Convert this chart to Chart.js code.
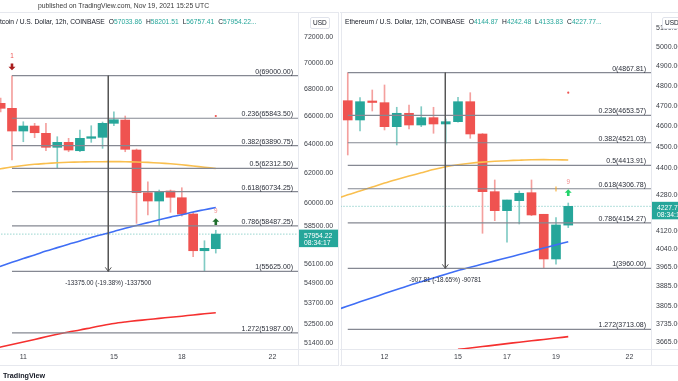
<!DOCTYPE html>
<html>
<head>
<meta charset="utf-8">
<title>BTC / ETH 12h</title>
<script src="https://cdn.jsdelivr.net/npm/chart.js@4.4.1/dist/chart.umd.min.js"></script>
<style>
  html, body { margin: 0; padding: 0; background: #fff; }
  body { position: relative; width: 678px; height: 381px; overflow: hidden; font-family: "Liberation Sans", Arial, sans-serif; color: #131722; }
  canvas { position: absolute; top: 0; }
  #btc { left: 0; }
  #eth { left: 340px; }
  .t { position: absolute; white-space: nowrap; line-height: 1; z-index: 2; }
  .hdr { font-size: 6.7px; top: 18.7px; color: #131722; }
  .hdr b { font-weight: normal; color: #26a69a; }
  .hdr i { font-style: normal; margin-left: 4px; }
  .usd { position: absolute; z-index: 2; font-size: 6.5px; border: 1px solid #e0e3eb; border-radius: 2px; padding: 1.5px 2px; line-height: 1; top: 17px; color: #131722; background: #fff; }
</style>
</head>
<body>
<canvas id="btc" width="339" height="381"></canvas>
<canvas id="eth" width="338" height="381"></canvas>
<div class="t" style="left:38px;top:2.5px;font-size:6.8px;color:#3a3a3a;">published on TradingView.com, Nov 19, 2021 15:25 UTC</div>
<div class="t hdr" id="btcHdr" style="left:-6px;"></div>
<div class="t hdr" id="ethHdr" style="left:345px;"></div>
<div class="usd" style="left:310px;">USD</div>
<div class="usd" style="left:662px;">USD</div>
<div class="t" style="left:3px;top:372px;font-size:7.2px;font-weight:bold;">TradingView</div>

<script>
// ---- BTC 12h candles (day of November) ----
const btcTimes = [10, 10.5, 11, 11.5, 12, 12.5, 13, 13.5, 14, 14.5, 15, 15.5, 16, 16.5, 17, 17.5, 18, 18.5, 19, 19.5];
const btcOpen  = [66934, 66567, 64923, 65281, 64759, 63769, 64120, 63530, 64403, 64474, 65476, 65714, 63579, 60659, 60106, 60772, 60325, 59252, 56904, 57033.86];
const btcHigh  = [67326, 69000, 65591, 65476, 65476, 64517, 64403, 64995, 65303, 65569, 66317, 66005, 63648, 61398, 60839, 60839, 60993, 59363, 57534, 58201.51];
const btcLow   = [66296, 62882, 64162, 64446, 63530, 62310, 63459, 63459, 64120, 63697, 65303, 63459, 58648, 59187, 58493, 59363, 59121, 56530, 55625, 56757.41];
const btcClose = [66567, 64923, 65281, 64801, 63769, 64120, 63579, 64403, 64517, 65476, 65736, 63628, 60659, 60106, 60725, 60352, 59252, 56904, 57055, 57954.22];

// moving averages
const btcMaTimes = [9.5, 10, 10.5, 11, 11.5, 12, 12.5, 13, 13.5, 14, 14.5, 15, 15.5, 16, 16.5, 17, 17.5, 18, 18.5, 19, 19.5];
const btcMaOrange = [62193, 62276, 62400, 62503, 62586, 62641, 62689, 62724, 62744, 62758, 62765, 62772, 62765, 62744, 62717, 62675, 62620, 62551, 62469, 62386, 62297];
const btcMaBlue   = [55695, 55940, 56181, 56417, 56642, 56886, 57099, 57313, 57515, 57738, 57935, 58127, 58332, 58513, 58694, 58881, 59050, 59206, 59389, 59533, 59678];
const btcMaRed    = [51034, 51175, 51322, 51464, 51605, 51759, 51902, 52033, 52148, 52281, 52408, 52523, 52610, 52686, 52749, 52819, 52883, 52947, 53017, 53087, 53151];

const btcFibRatios = ['0', '0.236', '0.382', '0.5', '0.618', '0.786', '1', '1.272'];
const btcFibPrices = [69000, 65843.5, 63890.75, 62312.5, 60734.25, 58487.25, 55625, 51987];
const btcYTicks = [72000, 70000, 68000, 66000, 64000, 62000, 60000, 58500, 56100, 54900, 53700, 52500, 51400];
const btcXTicks = [11, 15, 18, 22];

// ---- ETH 12h candles ----
const ethTimes = [10.5, 11, 11.5, 12, 12.5, 13, 13.5, 14, 14.5, 15, 15.5, 16, 16.5, 17, 17.5, 18, 18.5, 19, 19.5];
const ethOpen  = [4726.1, 4630.9, 4721.1, 4716.2, 4598.3, 4663.7, 4606.5, 4642.2, 4611.4, 4622.6, 4721.1, 4563.0, 4293.6, 4208.4, 4252.9, 4289.0, 4192.4, 3999.3, 4144.87];
const ethHigh  = [4867.81, 4741.1, 4779.8, 4805.1, 4693.4, 4704.8, 4696.3, 4693.4, 4635.8, 4743.1, 4766.2, 4565.0, 4346.9, 4256.1, 4296.7, 4346.9, 4192.4, 4177.4, 4242.48];
const ethLow   = [4463.0, 4577.5, 4675.0, 4582.3, 4510.4, 4587.1, 4598.3, 4566.4, 4518.5, 4620.0, 4542.3, 4109.2, 4164.2, 4070.4, 4149.7, 4186.2, 3960.0, 3977.0, 4133.83];
const ethClose = [4630.9, 4721.1, 4717.2, 4598.3, 4663.7, 4606.5, 4642.2, 4611.4, 4622.6, 4721.1, 4563.0, 4293.6, 4208.4, 4256.1, 4286.3, 4189.3, 3999.3, 4145.4, 4227.77];

const ethMaTimes = [10, 10.5, 11, 11.5, 12, 12.5, 13, 13.5, 14, 14.5, 15, 15.5, 16, 16.5, 17, 17.5, 18, 18.5, 19, 19.5];
const ethMaOrange = [4260.6, 4279.5, 4296.7, 4314.4, 4332.7, 4349.2, 4364.8, 4380.0, 4395.3, 4408.3, 4417.6, 4424.6, 4429.7, 4433.5, 4436.3, 4438.6, 4440.5, 4441.0, 4440.5, 4439.6];
const ethMaBlue   = [3789.1, 3805.5, 3822.4, 3839.0, 3856.0, 3872.8, 3889.1, 3904.3, 3920.0, 3935.3, 3950.7, 3964.5, 3977.9, 3991.4, 4004.4, 4018.0, 4032.0, 4045.7, 4059.2, 4073.0];
const ethMaRedTimes = [15, 15.5, 16, 16.5, 17, 17.5, 18, 18.5, 19, 19.5];
const ethMaRed    = [3635.4, 3641.1, 3646.5, 3651.9, 3657.7, 3663.1, 3668.5, 3673.9, 3679.3, 3684.8];

const ethFibRatios = ['0', '0.236', '0.382', '0.5', '0.618', '0.786', '1', '1.272'];
const ethFibPrices = [4867.81, 4653.57, 4521.03, 4413.91, 4306.78, 4154.27, 3960, 3713.08];
const ethYTicks = [5100, 5000, 4900, 4800, 4700, 4600, 4500, 4400, 4280, 4120, 4040, 3965, 3885, 3805, 3735, 3665];
const ethXTicks = [12, 15, 17, 19, 22];

const FONT = '"Liberation Sans", Arial, sans-serif';
const UP = '#26a69a', DOWN = '#ef5350';
const UP_WICK = '#80cbc4', DOWN_WICK = '#f4a09e';

// header legends
function header(name, o, h, l, c) {
  const i = o.length - 1;
  return name + '<i>O<b>' + o[i].toFixed(2) + '</b></i><i>H<b>' + h[i].toFixed(2) +
    '</b></i><i>L<b>' + l[i].toFixed(2) + '</b></i><i>C<b>' + c[i].toFixed(2) + '...</b></i>';
}
document.getElementById('btcHdr').innerHTML = header('Bitcoin / U.S. Dollar, 12h, COINBASE', btcOpen, btcHigh, btcLow, btcClose);
document.getElementById('ethHdr').innerHTML = header('Ethereum / U.S. Dollar, 12h, COINBASE', ethOpen, ethHigh, ethLow, ethClose);

function candleSets(t, o, h, l, c) {
  const up = c.map((v, i) => v >= o[i]);
  return [
    { type: 'bar', order: 10, grouped: false, barThickness: 9, minBarLength: 1.5, borderWidth: 0,
      data: t.map((x, i) => ({ x: x, y: [o[i], c[i]] })),
      backgroundColor: up.map(u => u ? UP : DOWN) },
    { type: 'bar', order: 11, grouped: false, barThickness: 1, borderWidth: 0,
      data: t.map((x, i) => ({ x: x, y: [l[i], h[i]] })),
      backgroundColor: up.map(u => u ? UP_WICK : DOWN_WICK) }
  ];
}

function maLine(t, v, color) {
  return { type: 'line', order: 5, data: t.map((x, i) => ({ x: x, y: v[i] })),
    borderColor: color, borderWidth: 1.6, pointRadius: 0, tension: 0.3, fill: false };
}

function hLine(x0, x1, v, color, width, dash, order) {
  return { type: 'line', order: order, data: [{ x: x0, y: v }, { x: x1, y: v }],
    borderColor: color, borderWidth: width, borderDash: dash, pointRadius: 0, fill: false };
}

function arrow(ctx, x, y, up, color) {
  const d = up ? -1 : 1;
  ctx.fillStyle = color;
  ctx.beginPath();
  ctx.moveTo(x, y + 3.5 * d);
  ctx.lineTo(x - 3.5, y);
  ctx.lineTo(x - 1.3, y);
  ctx.lineTo(x - 1.3, y - 3.2 * d);
  ctx.lineTo(x + 1.3, y - 3.2 * d);
  ctx.lineTo(x + 1.3, y);
  ctx.lineTo(x + 3.5, y);
  ctx.closePath();
  ctx.fill();
}

function overlay(cfg) {
  return {
    id: 'overlay',
    beforeDraw(chart) {
      const { ctx, chartArea: a, width } = chart;
      ctx.save();
      ctx.strokeStyle = '#e6e8ee';
      ctx.lineWidth = 1;
      ctx.beginPath();
      ctx.moveTo(a.right + 0.5, a.top); ctx.lineTo(a.right + 0.5, 366);
      ctx.moveTo(0, a.bottom + 0.5); ctx.lineTo(width, a.bottom + 0.5);
      ctx.moveTo(0, 365.5); ctx.lineTo(width, 365.5);
      ctx.moveTo(0, a.top + 0.5); ctx.lineTo(width, a.top + 0.5);
      if (cfg.edge === 'right') { ctx.moveTo(width - 0.5, a.top); ctx.lineTo(width - 0.5, 366); }
      else { ctx.moveTo(a.left + 0.5, a.top); ctx.lineTo(a.left + 0.5, 366); }
      ctx.stroke();
      ctx.restore();
    },
    afterDatasetsDraw(chart) {
      const { ctx, chartArea: a, width } = chart;
      const xs = chart.scales.x, ys = chart.scales.y;
      ctx.save();
      // fib labels
      ctx.font = '7px ' + FONT;
      ctx.fillStyle = '#2a2e39';
      ctx.textAlign = 'right';
      ctx.textBaseline = 'bottom';
      cfg.fibRatios.forEach((r, i) => {
        const py = ys.getPixelForValue(cfg.fibPrices[i]);
        ctx.fillText(r + '(' + cfg.fibPrices[i].toFixed(2) + ')', a.right - 5, py - 0.5);
      });
      // measure arrow + text
      const mx = xs.getPixelForValue(cfg.measureX);
      const my = ys.getPixelForValue(cfg.measureTo);
      ctx.strokeStyle = '#555';
      ctx.lineWidth = 1;
      ctx.beginPath();
      ctx.moveTo(mx - 3, my - 4); ctx.lineTo(mx, my); ctx.lineTo(mx + 3, my - 4);
      ctx.stroke();
      ctx.font = '6.3px ' + FONT;
      ctx.textAlign = 'center';
      ctx.textBaseline = 'middle';
      ctx.fillStyle = '#2a2e39';
      ctx.fillText(cfg.measureText, mx, my + 12);
      // markers
      cfg.sell.forEach(p => arrow(ctx, xs.getPixelForValue(p[0]), ys.getPixelForValue(p[1]), false, '#a91c1c'));
      cfg.buy.forEach(p => arrow(ctx, xs.getPixelForValue(p[0]), ys.getPixelForValue(p[1]), true, cfg.buyColor));
      cfg.dots.forEach(p => {
        ctx.fillStyle = '#ef5350';
        ctx.beginPath();
        ctx.arc(xs.getPixelForValue(p[0]), ys.getPixelForValue(p[1]), 1.1, 0, Math.PI * 2);
        ctx.fill();
      });
      cfg.ticksOrange.forEach(p => {
        ctx.strokeStyle = '#f5a623';
        ctx.beginPath();
        const px = xs.getPixelForValue(p[0]), py = ys.getPixelForValue(p[1]);
        ctx.moveTo(px, py - 2.5); ctx.lineTo(px, py + 2.5);
        ctx.stroke();
      });
      ctx.font = '6.3px ' + FONT;
      cfg.labels.forEach(p => {
        ctx.fillStyle = p[3];
        ctx.fillText(p[2], xs.getPixelForValue(p[0]), ys.getPixelForValue(p[1]));
      });
      // last price tag
      const py = ys.getPixelForValue(cfg.close);
      const tagW = (cfg.edge === 'right' ? width - 1 : width) - a.right - 1;
      ctx.fillStyle = UP;
      ctx.fillRect(a.right + 1, py - 4.5, tagW, 17.5);
      ctx.fillStyle = '#fff';
      ctx.font = '6.8px ' + FONT;
      ctx.textAlign = 'left';
      ctx.fillText(cfg.close.toFixed(2), a.right + 6, py + 1.5);
      ctx.fillText(cfg.countdown, a.right + 6, py + 9);
      ctx.restore();
    }
  };
}

function makeChart(id, c) {
  const datasets = [].concat(
    candleSets(c.t, c.o, c.h, c.l, c.c),
    [maLine(c.maT, c.maO, '#f9bf4f'), maLine(c.maT, c.maB, '#3f6ef5'), maLine(c.maRT, c.maR, '#f5302f')],
    c.fibPrices.map(v => hLine(c.fibStart, c.xMax + 1, v, '#858892', 1.2, [], 3)),
    [{ type: 'line', order: 2, data: [{ x: c.measureX, y: c.fibPrices[0] }, { x: c.measureX, y: c.fibPrices[6] }],
       borderColor: '#555', borderWidth: 1, pointRadius: 0, fill: false },
     hLine(c.xMin - 1, c.xMax + 1, c.c[c.c.length - 1], 'rgba(38,166,154,0.7)', 1, [1, 2], 12)]
  );
  return new Chart(document.getElementById(id), {
    type: 'line',
    data: { datasets: datasets },
    options: {
      responsive: false,
      animation: false,
      events: [],
      layout: { padding: { left: c.padLeft, right: 0, top: 12, bottom: 15 }, autoPadding: false },
      plugins: { legend: { display: false }, tooltip: { enabled: false } },
      scales: {
        x: {
          type: 'linear', min: c.xMin, max: c.xMax, offset: false,
          grid: { display: false, drawTicks: false }, border: { display: false },
          ticks: { color: '#3b3e46', font: { size: 7, family: FONT }, padding: 4, maxRotation: 0, autoSkip: false,
                   callback: v => String(v) },
          afterBuildTicks: s => { s.ticks = c.xTicks.map(v => ({ value: v })); },
          afterFit: s => { s.height = 17; }
        },
        y: {
          type: 'logarithmic', position: 'right', min: c.yMin, max: c.yMax,
          grid: { display: false, drawTicks: false }, border: { display: false },
          ticks: { color: '#3b3e46', font: { size: 7, family: FONT }, padding: c.tickPad, autoSkip: false,
                   callback: v => Number(v).toFixed(2) },
          afterBuildTicks: s => { s.ticks = c.yTicks.map(v => ({ value: v })); },
          afterFit: s => { s.width = c.axisWidth; }
        }
      }
    },
    plugins: [overlay({
      edge: c.edge,
      fibRatios: c.fibRatios, fibPrices: c.fibPrices,
      measureX: c.measureX, measureTo: c.fibPrices[6], measureText: c.measureText,
      close: c.c[c.c.length - 1], countdown: '08:34:17',
      sell: c.sell, buy: c.buy, buyColor: c.buyColor, dots: c.dots, ticksOrange: c.ticksOrange, labels: c.labels
    })]
  });
}

makeChart('btc', {
  t: btcTimes, o: btcOpen, h: btcHigh, l: btcLow, c: btcClose,
  maT: btcMaTimes, maO: btcMaOrange, maB: btcMaBlue, maRT: btcMaTimes, maR: btcMaRed,
  fibRatios: btcFibRatios, fibPrices: btcFibPrices, fibStart: 10.5,
  xMin: 9.971, xMax: 23.13, yMin: 51067, yMax: 74016,
  xTicks: btcXTicks, yTicks: btcYTicks, axisWidth: 41, tickPad: 6, padLeft: 0, edge: 'right',
  measureX: 14.753, measureText: '-13375.00 (-19.38%) -1337500',
  sell: [[10.5, 69687]], buy: [[19.5, 58751]], buyColor: '#1f6f2c',
  dots: [[19.5, 66005]], ticksOrange: [],
  labels: [[10.5, 70513, '1', '#ef5350'], [19.5, 59448, '9', '#f28b8b']]
});

makeChart('eth', {
  t: ethTimes, o: ethOpen, h: ethHigh, l: ethLow, c: ethClose,
  maT: ethMaTimes, maO: ethMaOrange, maB: ethMaBlue, maRT: ethMaRedTimes, maR: ethMaRed,
  fibRatios: ethFibRatios, fibPrices: ethFibPrices, fibStart: 10.5,
  xMin: 10.224, xMax: 22.878, yMin: 3637, yMax: 5189.6,
  xTicks: ethXTicks, yTicks: ethYTicks, axisWidth: 27, tickPad: 5, padLeft: 1, edge: 'left',
  measureX: 14.482, measureText: '-907.81 (-18.65%) -90781',
  sell: [], buy: [[19.5, 4289.0]], buyColor: '#22d36a',
  dots: [[19.5, 4766.2]], ticksOrange: [[19.0, 4305.8]],
  labels: [[19.5, 4336.3, '9', '#f28b8b']]
});
</script>
</body>
</html>
